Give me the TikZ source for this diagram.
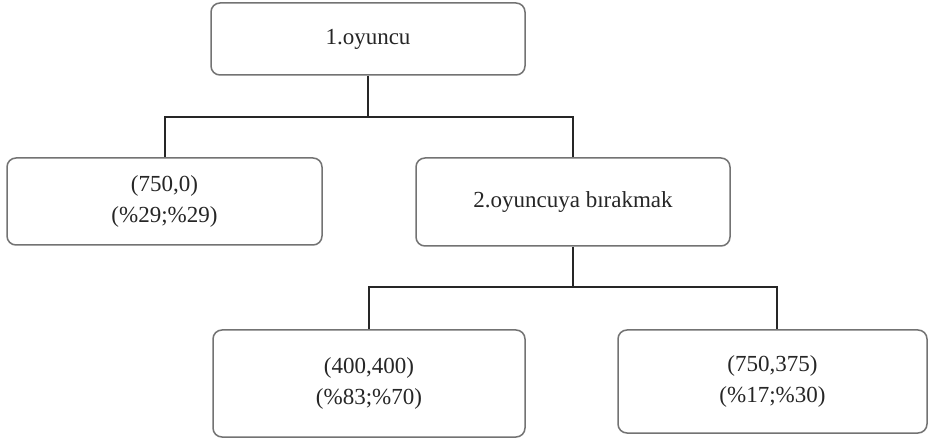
\documentclass[tikz,border=0pt]{standalone}
\usepackage{fontspec}
\setmainfont{Liberation Serif}
\begin{document}
\begin{tikzpicture}[x=1pt,y=-1pt,
  box/.style={draw=black!55,line width=1.5pt,rounded corners=9pt,align=center,
    inner sep=0pt,font=\fontsize{23}{31}\selectfont,text=black!85},
  conn/.style={draw=black!85,line width=2pt}]
\useasboundingbox[fill=white] (0,0) rectangle (929,438);
\node[box,minimum width=314pt,minimum height=72pt] (top) at (368,39) {1.oyuncu};
\node[box,minimum width=315pt,minimum height=87pt] (left) at (164.5,201.5) {(750,0)\\(\%29;\%29)};
\node[box,minimum width=314pt,minimum height=88pt] (right) at (573,202) {2.oyuncuya bırakmak};
\node[box,minimum width=312pt,minimum height=107pt] (bl) at (369,383.5) {(400,400)\\(\%83;\%70)};
\node[box,minimum width=309pt,minimum height=103pt] (br) at (772.5,381.5) {(750,375)\\(\%17;\%30)};
\coordinate (j1) at (368,117);
\coordinate (j2) at (573,287);
\coordinate (brtop) at ([xshift=4.5pt]br.north);
\draw[conn] (top.south) -- (j1);
\draw[conn] (j1) -| (left.north);
\draw[conn] (j1) -| (right.north);
\draw[conn] (right.south) -- (j2);
\draw[conn] (j2) -| (bl.north);
\draw[conn] (j2) -| (brtop);
\end{tikzpicture}
\end{document}
